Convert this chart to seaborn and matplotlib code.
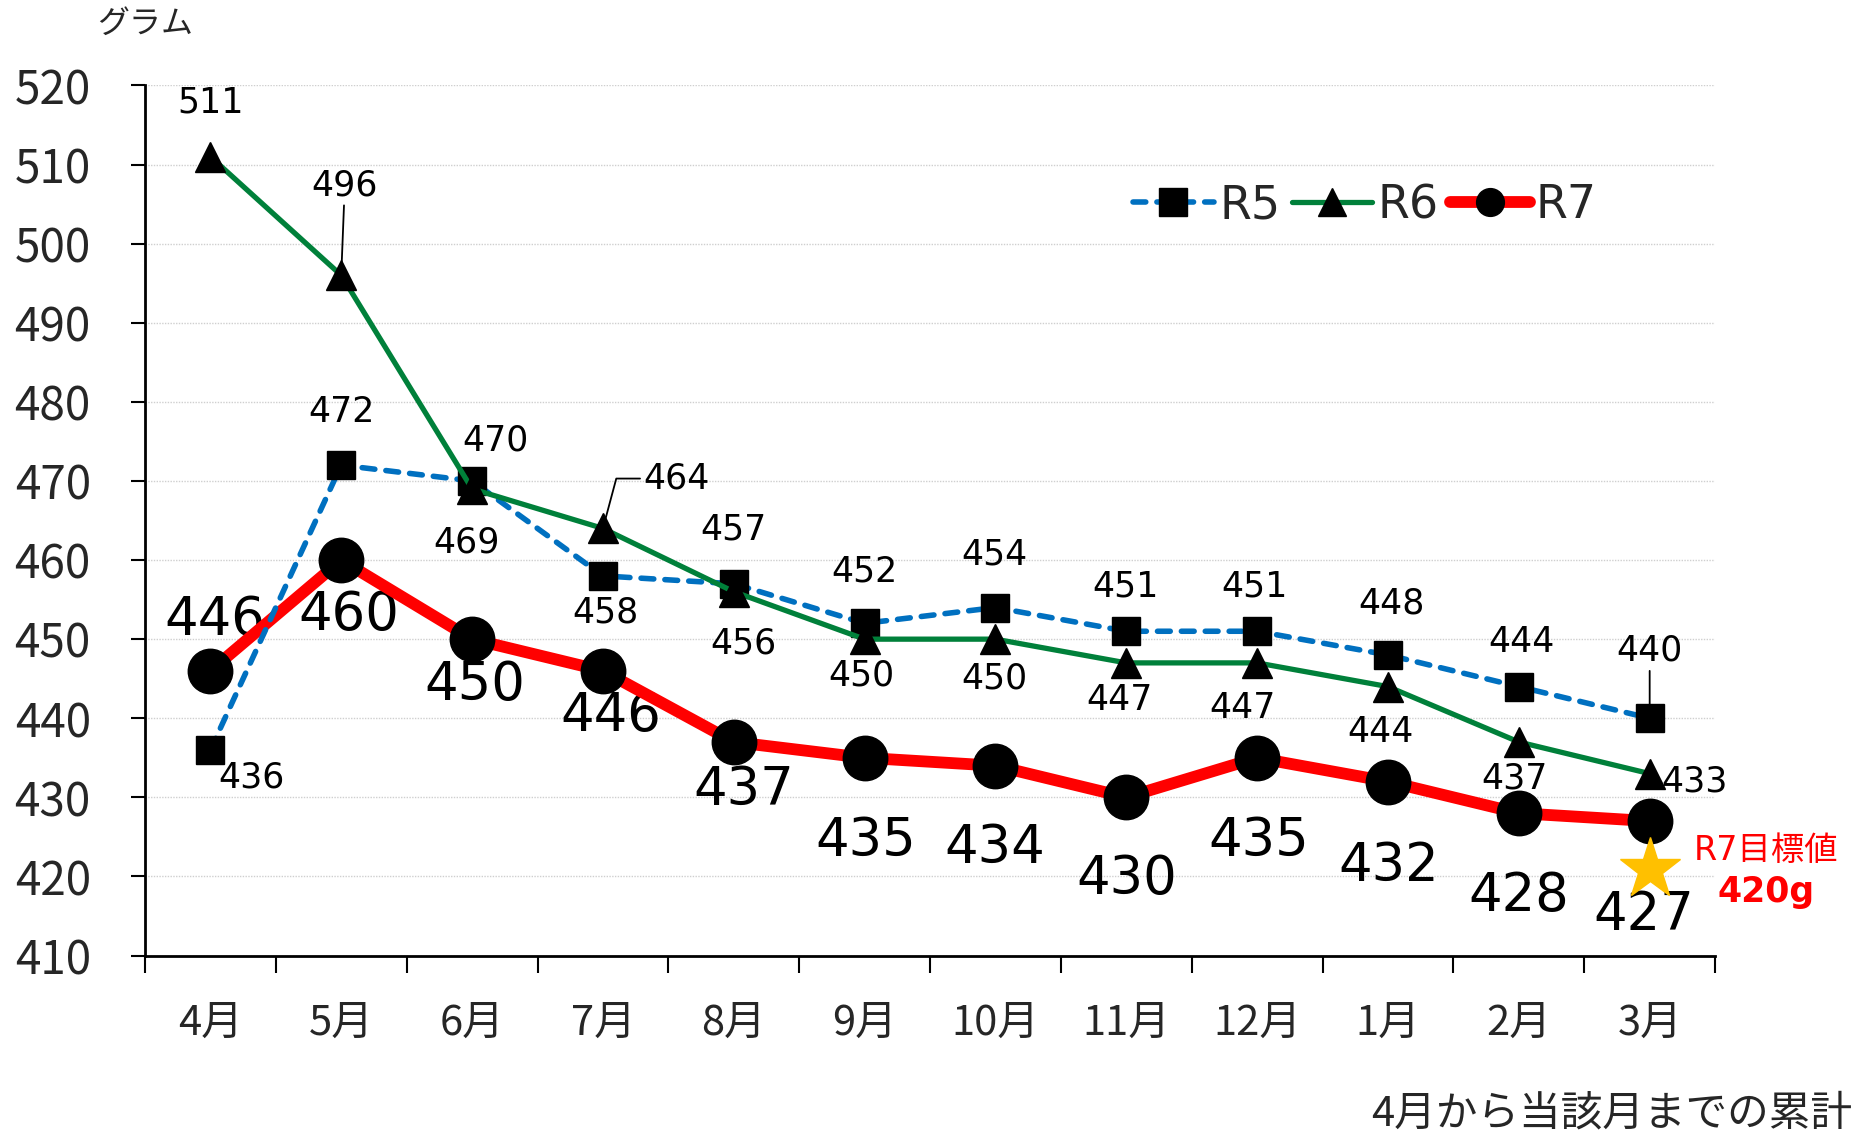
import numpy as np
import pandas as pd
import matplotlib
matplotlib.use("Agg")
import matplotlib.pyplot as plt
import seaborn as sns

# ---------------- data ----------------
months = ["4月", "5月", "6月", "7月", "8月", "9月", "10月", "11月", "12月", "1月", "2月", "3月"]
r5 = [436, 472, 470, 458, 457, 452, 454, 451, 451, 448, 444, 440]
r6 = [511, 496, 469, 464, 456, 450, 450, 447, 447, 444, 437, 433]
r7 = [446, 460, 450, 446, 437, 435, 434, 430, 435, 432, 428, 427]
series_names = ["R5", "R6", "R7"]
target_value = 420
target_marker_y = 421
y_ticks = list(range(410, 521, 10))

# ---------------- layout (label offsets in reference px: dx right, dy down) ----------------
r5_off = [(35, 23), (0, -45), (20, -34), (2, 31), (0, -46), (0, -44), (-1, -45), (-1, -38),
          (-2, -38), (3, -43), (2, -38), (0, -57)]
r6_off = [(0, -46), (3, -76), (-5, 45), (62, -42), (8, 44), (-3, 31), (-1, 33), (-6, 31),
          (-12, 38), (-6, 38), (-4, 31), (38, 7)]
r7_off = [(4, -43), (6, 46), (2, 39), (7, 38), (8, 40), (1, 70), (-1, 69), (0, 69),
          (1, 70), (1, 71), (0, 70), (-5, 79)]
PX2PT = 1.187 * 0.72
LABEL_FONT = ['DejaVu Sans', 'Noto Sans CJK JP']

sns.set_theme(style="white")
plt.rcParams['font.family'] = ['Noto Sans CJK JP', 'DejaVu Sans']

fig = plt.figure(figsize=(18.61, 11.35), dpi=100)
ax = fig.add_axes([0.0779, 0.1581, 0.8437, 0.7666])

x = np.arange(len(months))
df = pd.DataFrame({
    "pos": np.tile(x, 3),
    "value": r5 + r6 + r7,
    "series": np.repeat(series_names, len(months)),
})

styles = {
    "R5": dict(color="#0070C0", linewidth=4.0, linestyle=(0, (2.3, 2.0)), marker="s",
               markersize=20, dash_capstyle="round", zorder=2.2),
    "R6": dict(color="#00803A", linewidth=3.8, linestyle="-", marker="^", markersize=22,
               zorder=2.3),
    "R7": dict(color="#FF0000", linewidth=8.5, linestyle="-", marker="o", markersize=32,
               solid_capstyle="round", zorder=2.1),
}
for name in series_names:
    sub = df[df["series"] == name]
    sns.lineplot(data=sub, x="pos", y="value", ax=ax, sort=False, estimator=None,
                 markerfacecolor="black", markeredgecolor="black", markeredgewidth=1,
                 label=name, clip_on=False, **styles[name])

# target star
ax.plot([x[-1]], [target_marker_y], marker="*", markersize=46, color="#FFC000",
        linestyle="none", zorder=5, clip_on=False)

# axes
ax.set_xlim(-0.5, len(months) - 0.5)
ax.set_ylim(410, 520)
ax.set_yticks(y_ticks)
ax.set_xticks(x)
ax.set_xticklabels(months)
ax.set_xticks(np.arange(-0.5, len(months), 1), minor=True)
ax.set_xlabel("")
ax.set_ylabel("")
ax.tick_params(axis='x', which='major', length=0, pad=34, labelsize=30, bottom=True)
ax.tick_params(axis='x', which='minor', length=12, width=1.5, direction='out',
               color='black', bottom=True)
ax.tick_params(axis='y', length=10, width=1.5, pad=29, labelsize=33, left=True,
               color='black', direction='out')
ax.yaxis.grid(True, color='#cfcfcf', linestyle=(0, (1, 1)), linewidth=1)
ax.xaxis.grid(False)
ax.set_axisbelow(True)
for s in ["top", "right"]:
    ax.spines[s].set_visible(False)
for s in ["left", "bottom"]:
    ax.spines[s].set_color("black")
    ax.spines[s].set_linewidth(2)

# data labels
def put_labels(vals, offs, size, leaders=()):
    lead = dict(leaders)
    for i, (v, (dx, dy)) in enumerate(zip(vals, offs)):
        kw = {}
        if i in lead:
            kw["arrowprops"] = dict(arrowstyle="-", color="black", lw=1.3,
                                    shrinkA=0, shrinkB=0, connectionstyle=lead[i])
        ax.annotate(str(v), xy=(x[i], v), xytext=(dx * PX2PT, -dy * PX2PT),
                    textcoords="offset points", ha="center", va="center",
                    fontsize=size, color="black", zorder=2.05, family=LABEL_FONT,
                    annotation_clip=False, **kw)

put_labels(r5, r5_off, 25, leaders=[(11, "arc3")])
put_labels(r6, r6_off, 25, leaders=[(1, "arc3"), (3, "angle,angleA=0,angleB=75,rad=0")])
put_labels(r7, r7_off, 38)

# legend
leg = ax.legend(loc="center", bbox_to_anchor=(0.777, 0.862), ncol=3, frameon=False,
                prop=dict(family=LABEL_FONT, size=33),
                handlelength=1.75, handletextpad=0.12, columnspacing=0.25)
for h in leg.legend_handles:
    h.set_markersize(20)

# texts
fig.text(145.5 / 1861, 1 - 24 / 1135, "グラム", fontsize=23, ha="center", va="center")
fig.text(1852 / 1861, 1 - 1114 / 1135, "4月から当該月までの累計", fontsize=30,
         ha="right", va="center")
fig.text(1766 / 1861, 1 - 860 / 1135, "R7目標値", fontsize=24, color="#FF0000",
         ha="center", va="baseline", family=LABEL_FONT)
fig.text(1766 / 1861, 1 - 902 / 1135, f"{target_value}g", fontsize=25, color="#FF0000",
         fontweight="bold", ha="center", va="baseline", family=LABEL_FONT)

fig.savefig("out.png", dpi=100)
